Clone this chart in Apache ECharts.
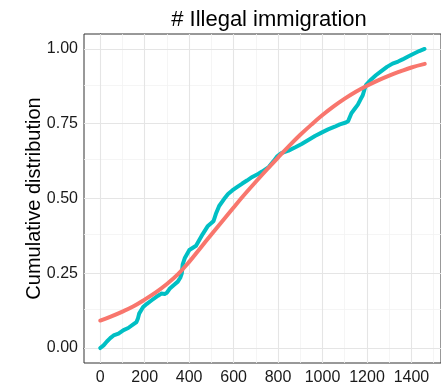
<!DOCTYPE html>
<html>
<head>
<meta charset="utf-8">
<script src="https://cdn.jsdelivr.net/npm/echarts@6/dist/echarts.min.js"></script>
<style>
  html, body { margin: 0; padding: 0; background: #ffffff; }
  #chart { width: 441px; height: 387px; }
</style>
</head>
<body>
<div id="chart"></div>
<script>
// Empirical cumulative distribution (observed values)
const ecdfX = [0, 15, 30, 45, 60, 82, 105, 126, 150, 163, 170, 175, 193, 210, 230, 260, 275, 290, 300, 312,
  330, 349, 360, 367, 371, 380, 401, 431, 445, 461, 483, 500, 510, 520, 535, 557, 575, 594, 615, 639,
  660, 684, 710, 728, 758, 780, 795, 815, 847, 880, 906, 940, 966, 1000, 1025, 1055, 1078, 1105, 1115, 1130,
  1145, 1159, 1170, 1181, 1190, 1196, 1219, 1240, 1263, 1290, 1315, 1340, 1360, 1385, 1412, 1435, 1459];
const ecdfY = [0.000, 0.009, 0.022, 0.033, 0.042, 0.048, 0.060, 0.067, 0.080, 0.087, 0.100, 0.115, 0.137, 0.148, 0.159, 0.175, 0.182, 0.181, 0.185, 0.198,
  0.210, 0.222, 0.235, 0.250, 0.280, 0.300, 0.328, 0.342, 0.360, 0.381, 0.407, 0.418, 0.425, 0.448, 0.475, 0.498, 0.515, 0.527, 0.538, 0.550,
  0.560, 0.572, 0.582, 0.590, 0.605, 0.625, 0.640, 0.652, 0.660, 0.672, 0.682, 0.697, 0.709, 0.722, 0.731, 0.740, 0.748, 0.754, 0.758, 0.785,
  0.800, 0.814, 0.830, 0.845, 0.868, 0.880, 0.898, 0.912, 0.925, 0.940, 0.951, 0.958, 0.965, 0.975, 0.985, 0.993, 1.000];

// Fitted cumulative distribution
const fitX = [0, 50, 100, 150, 200, 250, 300, 350, 400, 450, 500, 550, 600, 650, 700, 750, 800, 850, 900, 950,
  1000, 1050, 1100, 1150, 1200, 1250, 1300, 1350, 1400, 1460];
const fitY = [0.092, 0.106, 0.122, 0.140, 0.162, 0.186, 0.214, 0.247, 0.288, 0.334, 0.380, 0.425, 0.470, 0.514, 0.556, 0.597, 0.637, 0.676, 0.713, 0.747,
  0.779, 0.808, 0.834, 0.857, 0.877, 0.895, 0.911, 0.925, 0.938, 0.950];

// Axis ticks and grid lines
const xTicks = [0, 200, 400, 600, 800, 1000, 1200, 1400];
const xMinor = [100, 300, 500, 700, 900, 1100, 1300, 1500];
const yTicks = [0, 0.25, 0.5, 0.75, 1];
const yMinor = [0.125, 0.375, 0.625, 0.875];

const pairs = (xs, ys) => xs.map((x, i) => [x, ys[i]]);

const majorStyle = { color: '#e5e5e5', width: 1.1, type: 'solid' };
const minorStyle = { color: '#f2f2f2', width: 0.8, type: 'solid' };

const gridLines = []
  .concat(xMinor.map(v => ({ xAxis: v, lineStyle: minorStyle })))
  .concat(yMinor.map(v => ({ yAxis: v, lineStyle: minorStyle })))
  .concat(xTicks.map(v => ({ xAxis: v, lineStyle: majorStyle })))
  .concat(yTicks.map(v => ({ yAxis: v, lineStyle: majorStyle })));

const chart = echarts.init(document.getElementById('chart'), null, { renderer: 'canvas' });
const font = 'Liberation Sans, Arial, Helvetica, sans-serif';

chart.setOption({
  animation: false,
  backgroundColor: '#ffffff',
  title: {
    text: '# Illegal immigration',
    left: 264,
    textAlign: 'center',
    top: 4,
    textStyle: { fontFamily: font, fontSize: 22, fontWeight: 'normal', color: '#000000' }
  },
  grid: {
    left: 84, top: 34, width: 360, height: 329,
    show: true, backgroundColor: '#ffffff', borderColor: '#333333', borderWidth: 1
  },
  xAxis: {
    type: 'value',
    min: -73, max: 1533,
    axisLine: { show: true, lineStyle: { color: '#333333', width: 1 } },
    axisTick: { show: true, length: 4, customValues: xTicks, lineStyle: { color: '#333333', width: 1 } },
    axisLabel: {
      customValues: xTicks, margin: 7,
      fontFamily: font, fontSize: 16, color: '#1a1a1a',
      formatter: v => String(v)
    },
    splitLine: { show: false }
  },
  yAxis: {
    type: 'value',
    min: -0.05, max: 1.05,
    name: 'Cumulative distribution',
    nameLocation: 'middle',
    nameGap: 40,
    nameMoveOverlap: false,
    nameTextStyle: { fontFamily: font, fontSize: 20, color: '#000000' },
    axisLine: { show: true, lineStyle: { color: '#333333', width: 1 } },
    axisTick: { show: true, length: 4, customValues: yTicks, lineStyle: { color: '#333333', width: 1 } },
    axisLabel: {
      customValues: yTicks, margin: 6,
      fontFamily: font, fontSize: 16, color: '#1a1a1a',
      formatter: v => v.toFixed(2)
    },
    splitLine: { show: false }
  },
  series: [
    {
      // panel grid lines, kept beneath the curves
      type: 'line',
      data: [],
      z: 1,
      silent: true,
      markLine: {
        silent: true,
        z: 1,
        symbol: ['none', 'none'],
        label: { show: false },
        emphasis: { disabled: true },
        animation: false,
        data: gridLines
      }
    },
    {
      name: 'empirical',
      type: 'line',
      z: 10,
      data: pairs(ecdfX, ecdfY),
      showSymbol: false,
      symbol: 'none',
      lineStyle: { color: '#00BFC4', width: 4, cap: 'round', join: 'round' }
    },
    {
      name: 'fitted',
      type: 'line',
      z: 11,
      data: pairs(fitX, fitY),
      showSymbol: false,
      symbol: 'none',
      smooth: 0.4,
      lineStyle: { color: '#F8766D', width: 4, cap: 'round', join: 'round' }
    }
  ]
});
</script>
</body>
</html>
